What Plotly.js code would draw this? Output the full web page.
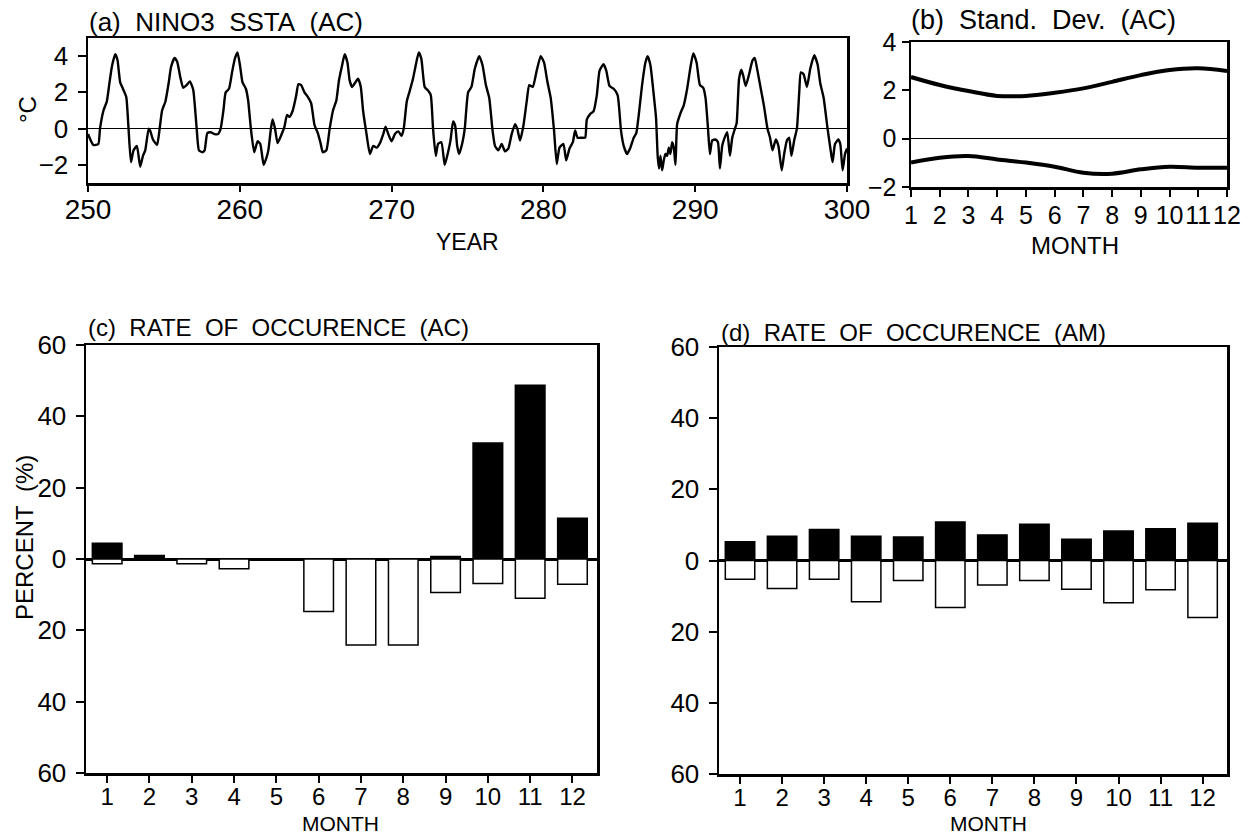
<!DOCTYPE html>
<html>
<head>
<meta charset="utf-8">
<script src="https://cdn.plot.ly/plotly-3.0.1.min.js"></script>
<style>html,body{margin:0;padding:0;background:#fff;}#chart{width:1248px;height:839px;}</style>
</head>
<body>
<div id="chart"></div>
<script>
// ---- Panel (a): NINO3 SSTA (AC) time series ----
const yearsA = [
250.00,250.35,250.68,250.79,251.02,251.24,251.41,251.57,251.79,251.94,252.12,252.30,252.52,252.67,252.83,253.00,253.22,253.44,253.62,253.77,
254.00,254.11,254.28,254.55,254.72,254.88,255.10,255.32,255.47,255.70,255.87,256.09,256.27,256.49,256.71,256.93,257.15,257.31,257.53,257.68,
257.86,258.08,258.34,258.57,258.74,258.92,259.07,259.29,259.51,259.69,259.85,260.02,260.18,260.40,260.55,260.73,260.95,261.17,261.35,261.57,
261.72,261.88,262.05,262.16,262.32,262.49,262.76,262.94,263.11,263.27,263.49,263.71,263.86,264.04,264.26,264.48,264.70,264.92,265.14,265.32,
265.47,265.70,265.92,266.14,266.36,266.53,266.73,266.91,267.09,267.24,267.40,267.57,267.79,267.97,268.12,268.34,268.57,268.79,269.01,269.23,
269.45,269.60,269.78,270.00,270.22,270.44,270.66,270.80,271.00,271.20,271.41,271.59,271.79,271.96,272.18,272.40,272.58,272.73,272.91,273.06,
273.28,273.50,273.72,273.88,274.05,274.19,274.32,274.45,274.67,274.82,275.04,275.26,275.48,275.77,275.99,276.21,276.43,276.65,276.81,277.03,
277.25,277.47,277.69,277.91,278.13,278.28,278.46,278.68,278.90,279.07,279.30,279.56,279.82,280.04,280.26,280.48,280.70,280.88,281.06,281.32,
281.50,281.72,281.94,282.09,282.25,282.53,282.75,282.86,283.08,283.30,283.52,283.70,283.96,284.14,284.36,284.63,284.89,285.11,285.29,285.51,
285.73,285.95,286.12,286.28,286.50,286.72,286.87,287.05,287.27,287.42,287.53,287.62,287.71,287.82,287.93,288.04,288.15,288.26,288.37,288.48,
288.59,288.70,288.81,289.03,289.25,289.47,289.69,289.87,290.09,290.31,290.53,290.68,290.84,290.97,291.12,291.34,291.50,291.63,291.78,291.94,
292.11,292.29,292.44,292.62,292.73,292.89,293.04,293.17,293.33,293.55,293.77,293.92,294.10,294.32,294.54,294.76,294.93,295.09,295.31,295.48,
295.70,295.86,296.04,296.19,296.34,296.52,296.70,296.85,296.96,297.14,297.36,297.58,297.84,298.06,298.24,298.46,298.72,298.94,299.05,299.21,
299.43,299.56,299.71,299.87,300.00
];
const sstaA = [
-0.3,-0.9,-0.85,0.0,1.0,1.5,2.5,3.4,4.1,3.8,2.55,2.2,1.75,0.0,-1.85,-1.2,-0.95,-2.1,-1.5,-1.2,
0.0,-0.15,-0.6,-0.9,0.0,1.0,1.5,2.55,3.4,3.9,3.7,2.8,2.25,2.4,2.6,2.15,0.1,-1.2,-1.3,-1.2,
-0.25,-0.2,-0.3,-0.3,0.0,1.0,2.0,2.2,3.2,3.9,4.2,3.45,2.55,2.2,1.55,0.0,-1.3,-0.7,-0.85,-2.0,
-1.7,-1.2,0.0,0.5,0.0,-0.8,-0.3,0.1,0.75,0.65,1.0,1.8,2.45,2.4,2.0,1.75,1.4,0.2,-0.25,-0.8,
-1.3,-1.2,0.0,1.0,1.55,2.65,3.45,4.1,3.65,2.65,2.3,2.5,2.75,2.3,1.0,-0.25,-1.4,-0.95,-1.05,-0.8,
-0.3,0.1,-0.3,-0.7,-0.3,-0.15,-0.4,0.0,1.5,2.1,2.75,3.5,4.2,3.85,2.3,2.1,1.85,0.0,-1.5,-0.85,
-0.75,-2.0,-1.3,-0.65,0.4,0.15,-0.95,-1.4,-0.75,0.0,2.0,2.3,3.3,4.0,3.5,2.4,1.7,-0.1,-0.95,-1.2,
-0.85,-1.25,-1.1,-0.3,0.25,0.0,-0.65,0.15,1.5,2.4,2.3,3.2,4.0,3.65,2.6,1.7,-0.1,-1.95,-1.05,-0.85,
-1.75,-1.1,-0.75,-0.1,-0.5,-0.5,-0.5,0.5,0.8,0.95,1.85,3.2,3.55,3.2,2.35,2.2,1.85,-0.1,-0.95,-1.4,
-1.05,-0.5,-0.25,0.75,2.4,3.65,4.0,3.5,1.85,0.6,-1.55,-2.2,-1.5,-2.3,-1.75,-1.4,-1.5,-1.05,-1.4,-0.75,
-1.05,-2.0,0.25,0.85,1.3,2.2,3.4,4.15,3.65,2.4,2.25,1.7,0.05,-1.4,-0.65,-0.6,-0.75,-2.2,-0.95,-0.5,
-0.2,-1.5,-0.5,0.0,0.3,2.75,3.25,2.9,2.35,3.0,3.75,3.9,3.2,2.2,1.2,0.0,-0.5,-1.2,-0.6,-0.95,
-2.3,-1.4,-0.65,-0.5,-1.5,-0.65,0.0,1.95,3.1,3.0,2.3,3.3,4.05,3.55,2.5,1.7,0.0,-1.3,-1.85,-0.85,
-0.6,-0.85,-2.3,-1.4,-1.1
];

// ---- Panel (b): Standard deviation envelope (AC) ----
const monthsB = [1,2,3,4,5,6,7,8,9,10,11,12];
const sdUpper = [2.55,2.22,1.97,1.77,1.77,1.90,2.08,2.35,2.63,2.84,2.91,2.80];
const sdLower = [-0.99,-0.79,-0.72,-0.86,-0.99,-1.16,-1.41,-1.45,-1.27,-1.16,-1.20,-1.20];

// ---- Panels (c),(d): Rate of occurrence (%) ----
const months = [1,2,3,4,5,6,7,8,9,10,11,12];
const monthLabels = ['1','2','3','4','5','6','7','8','9','10','11','12'];
const warmAC = [4.4,1.0,0,0,0,0,0,0,0.7,32.5,48.7,11.4];
const coldAC = [1.3,0,1.3,2.7,0,14.7,24.1,24.1,9.4,6.9,11.0,7.1];
const warmAM = [5.3,6.8,8.7,6.8,6.6,10.8,7.2,10.2,6.0,8.3,8.9,10.5];
const coldAM = [5.3,7.9,5.3,11.6,5.6,13.2,6.9,5.6,8.1,11.9,8.2,16.0];

const pctTickVals = [-60,-40,-20,0,20,40,60];
const pctTickText = ['60','40','20','0','20','40','60'];
const yearTicks = [250,260,270,280,290,300];

const FONT = 'Liberation Sans, Arial, Helvetica, sans-serif';
const W = 1248, H = 839;
const dx = (a,b) => [a/W, b/W];
const dy = (top,bottom) => [1-bottom/H, 1-top/H];

const traces = [
  {type:'scatter', mode:'lines', x:yearsA, y:sstaA, xaxis:'x', yaxis:'y',
   line:{color:'black', width:2.4, shape:'spline', smoothing:0.5}},
  {type:'scatter', mode:'lines', x:monthsB, y:sdUpper, xaxis:'x2', yaxis:'y2',
   line:{color:'black', width:4, shape:'spline', smoothing:1}},
  {type:'scatter', mode:'lines', x:monthsB, y:sdLower, xaxis:'x2', yaxis:'y2',
   line:{color:'black', width:4, shape:'spline', smoothing:1}},
  {type:'bar', x:months, y:warmAC, xaxis:'x3', yaxis:'y3', width:0.7,
   marker:{color:'black', line:{color:'black', width:1.5}}},
  {type:'bar', x:months, y:coldAC.map(v=>-v), xaxis:'x3', yaxis:'y3', width:0.7,
   marker:{color:'white', line:{color:'black', width:1.5}}},
  {type:'bar', x:months, y:warmAM, xaxis:'x4', yaxis:'y4', width:0.7,
   marker:{color:'black', line:{color:'black', width:1.5}}},
  {type:'bar', x:months, y:coldAM.map(v=>-v), xaxis:'x4', yaxis:'y4', width:0.7,
   marker:{color:'white', line:{color:'black', width:1.5}}}
];

function axBase(extra){
  return Object.assign({
    showline:true, linecolor:'black', linewidth:2.5, mirror:true,
    showgrid:false, zeroline:false, ticks:'outside', ticklen:8, tickwidth:2,
    tickcolor:'black', tickangle:0, fixedrange:true
  }, extra);
}

const layout = {
  width:W, height:H, margin:{l:0,r:0,t:0,b:0},
  paper_bgcolor:'white', plot_bgcolor:'white', showlegend:false,
  barmode:'overlay', bargap:0,
  font:{family:FONT, color:'black'},
  xaxis: axBase({domain:dx(88,847), range:[250,300], tickmode:'array', tickvals:yearTicks,
          ticktext:yearTicks.map(String), tickfont:{size:28}, anchor:'y', ticklen:6, ticklabelstandoff:-6}),
  yaxis: axBase({domain:dy(38,183), range:[-3,5], tickmode:'array', tickvals:[-2,0,2,4],
          ticktext:['\u22122','0','2','4'], tickfont:{size:26}, anchor:'x', ticklabelstandoff:4,
          zeroline:true, zerolinecolor:'black', zerolinewidth:1.2}),
  xaxis2: axBase({domain:dx(911,1227), range:[1,12], tickmode:'array', tickvals:monthsB,
          ticktext:monthLabels, tickfont:{size:25}, anchor:'y2', ticklen:7, ticklabelstandoff:-3}),
  yaxis2: axBase({domain:dy(42,187), range:[-2,4], tickmode:'array', tickvals:[-2,0,2,4],
          ticktext:['\u22122','0','2','4'], tickfont:{size:25}, anchor:'x2', ticklen:7,
          zeroline:true, zerolinecolor:'black', zerolinewidth:1.2}),
  xaxis3: axBase({domain:dx(86,597), range:[0.5,12.58], tickmode:'array', tickvals:months,
          ticktext:monthLabels, tickfont:{size:24}, anchor:'y3', ticklen:7, ticklabelstandoff:-6}),
  yaxis3: axBase({domain:dy(345,773), range:[-60,60], tickmode:'array', tickvals:pctTickVals,
          ticktext:pctTickText, tickfont:{size:26}, anchor:'x3', ticklabelstandoff:4,
          zeroline:true, zerolinecolor:'black', zerolinewidth:3}),
  xaxis4: axBase({domain:dx(719,1227), range:[0.5,12.58], tickmode:'array', tickvals:months,
          ticktext:monthLabels, tickfont:{size:24}, anchor:'y4', ticklen:7, ticklabelstandoff:-6}),
  yaxis4: axBase({domain:dy(347,774), range:[-60,60], tickmode:'array', tickvals:pctTickVals,
          ticktext:pctTickText, tickfont:{size:26}, anchor:'x4', ticklabelstandoff:4,
          zeroline:true, zerolinecolor:'black', zerolinewidth:3}),
  annotations: [
    {text:'(a)\u00a0 NINO3\u00a0 SSTA\u00a0 (AC)', x:88/W, y:1-22/H, size:26},
    {text:'(b)\u00a0 Stand.\u00a0 Dev.\u00a0 (AC)', x:910/W, y:1-20/H, size:27},
    {text:'(c)\u00a0 RATE\u00a0 OF\u00a0 OCCURENCE\u00a0 (AC)', x:87/W, y:1-328/H, size:24},
    {text:'(d)\u00a0 RATE\u00a0 OF\u00a0 OCCURENCE\u00a0 (AM)', x:720/W, y:1-332/H, size:24},
    {text:'YEAR', x:467/W, y:1-242/H, size:23, center:true},
    {text:'MONTH', x:1075/W, y:1-245/H, size:24, center:true},
    {text:'MONTH', x:341/W, y:1-823/H, size:21, center:true},
    {text:'MONTH', x:988/W, y:1-823/H, size:21, center:true},
    {text:'\u00b0C', x:27/W, y:1-110/H, size:24, center:true, angle:-90},
    {text:'PERCENT\u00a0 (%)', x:24/W, y:1-538/H, size:24, center:true, angle:-90}
  ].map(a => ({
    text:a.text, x:a.x, y:a.y, xref:'paper', yref:'paper', showarrow:false,
    xanchor: a.center ? 'center' : 'left', yanchor:'middle', borderpad:0,
    textangle: a.angle || 0, font:{family:FONT, size:a.size, color:'black'}
  }))
};

Plotly.newPlot('chart', traces, layout, {staticPlot:true, displayModeBar:false});
</script>
</body>
</html>
